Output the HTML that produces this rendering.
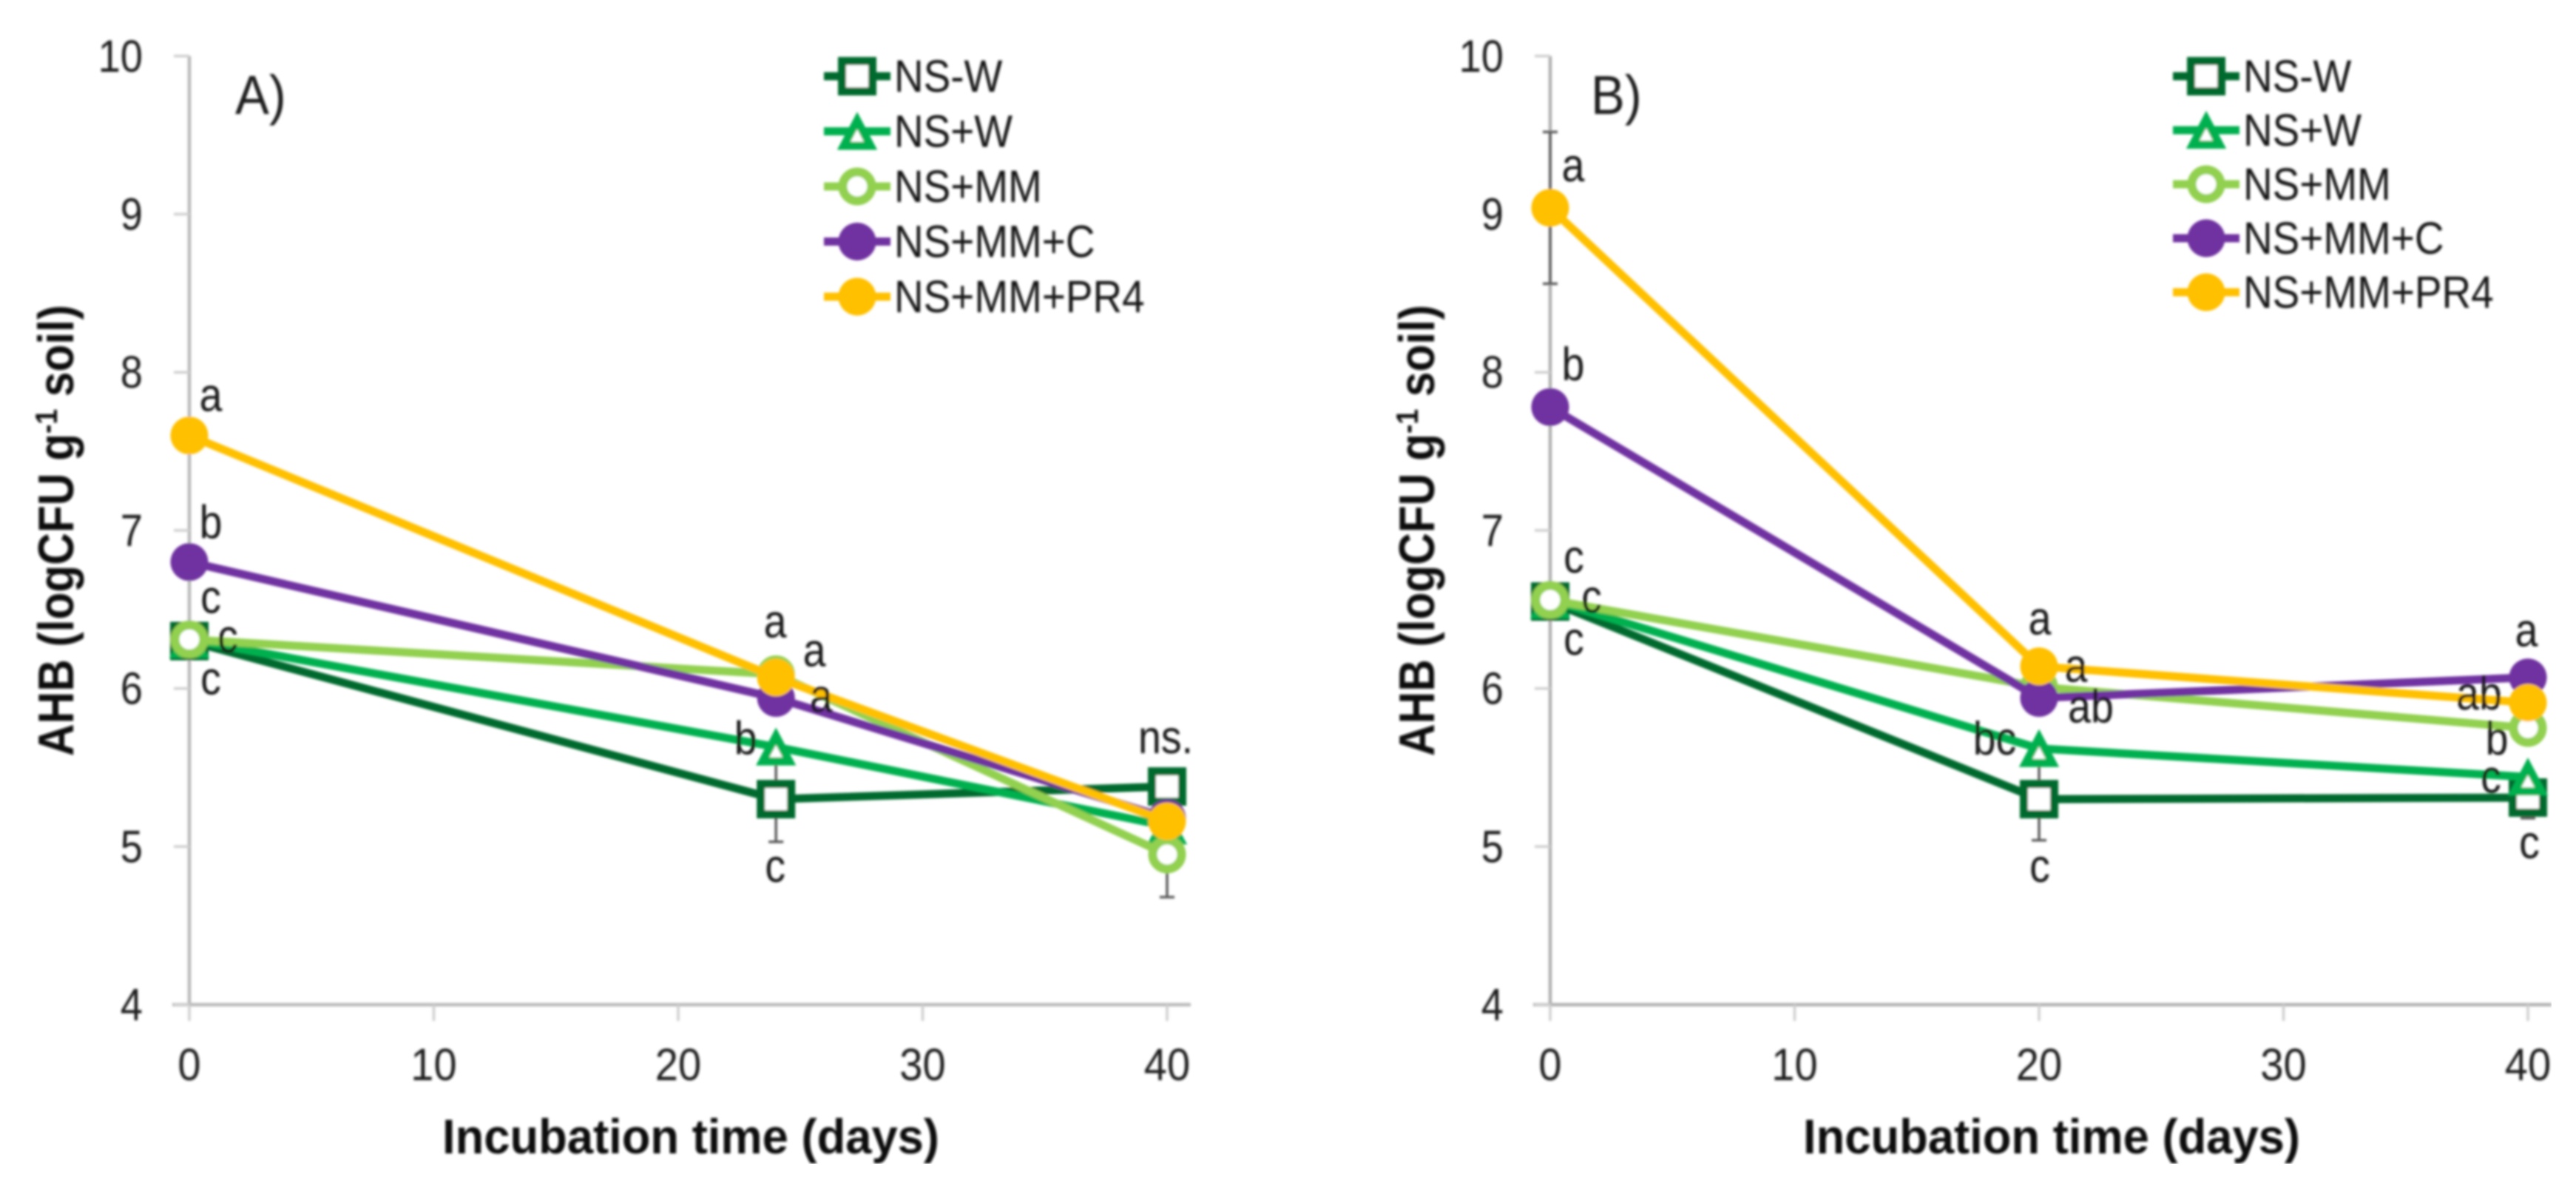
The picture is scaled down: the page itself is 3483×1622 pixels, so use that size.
<!DOCTYPE html>
<html lang="en">
<head>
<meta charset="utf-8">
<title>AHB incubation charts</title>
<style>
html,body{margin:0;padding:0;background:#fff;width:3483px;height:1622px;overflow:hidden}
svg{display:block}
text{font-family:"Liberation Sans",sans-serif}
</style>
</head>
<body>
<svg id="figure" xmlns="http://www.w3.org/2000/svg" width="3483" height="1622" viewBox="0 0 3483 1622">
<defs><filter id="soft" x="0" y="0" width="100%" height="100%" filterUnits="objectBoundingBox"><feGaussianBlur stdDeviation="1.5"/></filter></defs>
<rect width="3483" height="1622" fill="#fff"/>
<g id="panel-a" filter="url(#soft)"></g>
<g id="panel-b" filter="url(#soft)"></g>
</svg>
<script>
// ---- data ----
const seriesKeys = ['ns-w', 'ns-plus-w', 'ns-plus-mm', 'ns-plus-mm-plus-c', 'ns-plus-mm-plus-pr4'];
const legendLabels = ['NS-W', 'NS+W', 'NS+MM', 'NS+MM+C', 'NS+MM+PR4'];
const yTicks = [4, 5, 6, 7, 8, 9, 10];
const xTicks = [0, 10, 20, 30, 40];

const daysA = [0, 24, 40];
const nsWA = [6.30, 5.30, 5.38];
const nsPlusWA = [6.31, 5.63, 5.13];
const nsMmA = [6.31, 6.09, 4.95];
const nsMmCA = [6.80, 5.94, 5.18];
const nsMmPr4A = [7.60, 6.07, 5.16];
const errNsWA = [0, 0.27, 0];
const errNsPlusWA = [0, 0, 0];
const errNsMmA = [0, 0, 0.27];
const errNsMmCA = [0, 0, 0];
const errNsMmPr4A = [0, 0, 0];
const lettersA = [['c', 'c', 'ns.'], ['c', 'b', ''], ['c', 'a', ''], ['b', 'a', ''], ['a', 'a', '']];

const daysB = [0, 20, 40];
const nsWB = [6.55, 5.30, 5.31];
const nsPlusWB = [6.56, 5.62, 5.44];
const nsMmB = [6.56, 6.01, 5.75];
const nsMmCB = [7.78, 5.94, 6.07];
const nsMmPr4B = [9.04, 6.14, 5.91];
const errNsWB = [0, 0.26, 0.13];
const errNsPlusWB = [0, 0, 0];
const errNsMmB = [0, 0, 0];
const errNsMmCB = [0, 0, 0];
const errNsMmPr4B = [0.48, 0, 0];
const lettersB = [['c', 'c', 'c'], ['c', 'bc', 'c'], ['c', 'a', 'b'], ['b', 'ab', 'a'], ['a', 'a', 'ab']];

// ---- layout and style (not data) ----
const colors = ['#006B2E', '#00B050', '#92D050', '#7030A0', '#FFC000'];
const markerShapes = ['square', 'triangle', 'hollow', 'disc', 'disc'];
const letterOffsetsA = [
  [[29, 72], [-1, 112], [-2, -45]],
  [[29, -36], [-41, 10], null],
  [[52, 17], [52, -11], null],
  [[29, -32], [61, 19], null],
  [[29, -33], [-1, -54], null]
];
const letterOffsetsB = [
  [[32, 72], [1, 112], [2, 82]],
  [[32, -37], [-60, 8], [-50, 21]],
  [[56, 17], [50, -7], [-42, 36]],
  [[31, -36], [70, 33], [-2, -42]],
  [[31, -36], [1, -43], [-66, 9]]
];
const yOf = v => 1358 - (v - 4) * 213.7;
const NS = 'http://www.w3.org/2000/svg';

function add(tag, attrs, parent) {
  const node = document.createElementNS(NS, tag);
  for (const k in attrs) node.setAttribute(k, attrs[k]);
  parent.appendChild(node);
  return node;
}

function label(str, attrs, parent, squeeze) {
  const t = add('text', attrs, parent);
  t.textContent = str;
  if (squeeze) {
    t.setAttribute('textLength', (t.getComputedTextLength() * squeeze).toFixed(1));
    t.setAttribute('lengthAdjust', 'spacingAndGlyphs');
  }
  return t;
}

function drawMarker(shape, cx, cy, color, parent) {
  if (shape === 'square') {
    return add('rect', {x: cx - 20.5, y: cy - 20.5, width: 41, height: 41, fill: '#fff', stroke: color, 'stroke-width': 11}, parent);
  }
  if (shape === 'triangle') {
    return add('path', {d: 'M' + cx + ' ' + (cy - 14.5) + 'L' + (cx + 18) + ' ' + (cy + 19.5) + 'L' + (cx - 18) + ' ' + (cy + 19.5) + 'Z', fill: '#fff', stroke: color, 'stroke-width': 11}, parent);
  }
  if (shape === 'hollow') {
    return add('circle', {cx: cx, cy: cy, r: 19.5, fill: '#fff', stroke: color, 'stroke-width': 12}, parent);
  }
  return add('circle', {cx: cx, cy: cy, r: 25.5, fill: color}, parent);
}

function drawPanel(cfg) {
  const root = document.getElementById(cfg.id);
  const xOf = d => cfg.x0 + d * 33.05;

  // axes
  const yAxis = add('line', {x1: cfg.x0, x2: cfg.x0, y1: yOf(10), y2: yOf(4), stroke: cfg.axisColor, 'stroke-width': 4.5}, root);
  
  
  const xAxis = add('line', {x1: cfg.x0 - 23, x2: cfg.x0 + 1354, y1: yOf(4), y2: yOf(4), stroke: cfg.axisColor, 'stroke-width': 4.5}, root);
  
  

  yTicks.forEach(v => {
    const tick = add('line', {x1: cfg.x0 - 21, x2: cfg.x0, y1: yOf(v), y2: yOf(v), stroke: '#cfcfcf', 'stroke-width': 3.5}, root);
    
    
    const tl = label(String(v), {x: cfg.x0 - 63, y: yOf(v) + 21, 'text-anchor': 'end', 'font-size': 61, fill: '#1c1c1c'}, root, 0.89);
    
    
  });
  xTicks.forEach(d => {
    const tick = add('line', {x1: xOf(d), x2: xOf(d), y1: yOf(4), y2: yOf(4) + 22, stroke: '#cfcfcf', 'stroke-width': 3.5}, root);
    
    
    const tl = label(String(d), {x: xOf(d), y: 1460, 'text-anchor': 'middle', 'font-size': 61, fill: '#1c1c1c'}, root, 0.92);
    
    
  });

  // axis titles
  const xTitle = label('Incubation time (days)', {x: cfg.x0 + 678, y: 1559, 'text-anchor': 'middle', 'font-size': 66, 'font-weight': 700, fill: '#111', textLength: 672, lengthAdjust: 'spacingAndGlyphs'}, root);
  
  
  const yBase = cfg.x0 - 157;
  const yTitle = add('text', {x: yBase, y: 717, transform: 'rotate(-90 ' + yBase + ' 717)', 'text-anchor': 'middle', 'font-size': 68, 'font-weight': 700, fill: '#111', textLength: 610, lengthAdjust: 'spacingAndGlyphs'}, root);
  
  
  const t1 = add('tspan', {}, yTitle);
  t1.textContent = 'AHB (logCFU g';
  const t2 = add('tspan', {dy: -22, 'font-size': 42}, yTitle);
  t2.textContent = '-1';
  const t3 = add('tspan', {dy: 22}, yTitle);
  t3.textContent = ' soil)';

  // panel tag
  const tag = label(cfg.tag, {x: cfg.tagX, y: 154, 'font-size': 74, fill: '#1c1c1c'}, root, 0.93);
  
  

  // series
  cfg.values.forEach((vals, s) => {
    const g = add('g', {}, root);
    
    
    vals.forEach((v, i) => {
      const e = cfg.errors[s][i];
      if (!e) return;
      const bar = add('path', {
        d: 'M' + xOf(cfg.days[i]) + ' ' + yOf(v + e) + 'V' + yOf(v - e) +
           'M' + (xOf(cfg.days[i]) - 10) + ' ' + yOf(v + e) + 'h20' +
           'M' + (xOf(cfg.days[i]) - 10) + ' ' + yOf(v - e) + 'h20',
        fill: 'none', stroke: '#5a5a5a', 'stroke-width': 3.5}, g);
      
      
    });
    const pts = vals.map((v, i) => xOf(cfg.days[i]).toFixed(1) + ',' + yOf(v).toFixed(1)).join(' ');
    const line = add('polyline', {points: pts, fill: 'none', stroke: colors[s], 'stroke-width': 11, 'stroke-linejoin': 'round'}, g);
    
    
    vals.forEach((v, i) => {
      const m = drawMarker(markerShapes[s], xOf(cfg.days[i]), yOf(v), colors[s], g);
      
      
    });
  });

  // significance letters
  cfg.values.forEach((vals, s) => {
    vals.forEach((v, i) => {
      const txt = cfg.letters[s][i];
      const off = cfg.offsets[s][i];
      if (!txt || !off) return;
      const t = label(txt, {x: xOf(cfg.days[i]) + off[0], y: yOf(v) + off[1], 'text-anchor': 'middle', 'font-size': 63, fill: '#151515'}, root, 0.88);
      
      
    });
  });

  // legend
  legendLabels.forEach((name, s) => {
    const ly = cfg.legendY + s * cfg.legendStep;
    const entry = add('g', {}, root);
    
    
    const sw = add('line', {x1: cfg.legendX - 45, x2: cfg.legendX + 45, y1: ly, y2: ly, stroke: colors[s], 'stroke-width': 11}, entry);
    
    
    const mk = drawMarker(markerShapes[s], cfg.legendX, ly, colors[s], entry);
    
    
    const tx = label(name, {x: cfg.legendX + 50, y: ly + 21, 'font-size': 61, fill: '#151515'}, entry, 0.9);
    
    
  });
}

drawPanel({
  id: 'panel-a', x0: 256, axisColor: '#b8b8b8', tag: 'A)', tagX: 318,
  days: daysA,
  values: [nsWA, nsPlusWA, nsMmA, nsMmCA, nsMmPr4A],
  errors: [errNsWA, errNsPlusWA, errNsMmA, errNsMmCA, errNsMmPr4A],
  letters: lettersA, offsets: letterOffsetsA,
  legendX: 1159, legendY: 103, legendStep: 74.5
});
drawPanel({
  id: 'panel-b', x0: 2096, axisColor: '#b0b0b0', tag: 'B)', tagX: 2151,
  days: daysB,
  values: [nsWB, nsPlusWB, nsMmB, nsMmCB, nsMmPr4B],
  errors: [errNsWB, errNsPlusWB, errNsMmB, errNsMmCB, errNsMmPr4B],
  letters: lettersB, offsets: letterOffsetsB,
  legendX: 2983, legendY: 103, legendStep: 73
});
</script>
</body>
</html>
